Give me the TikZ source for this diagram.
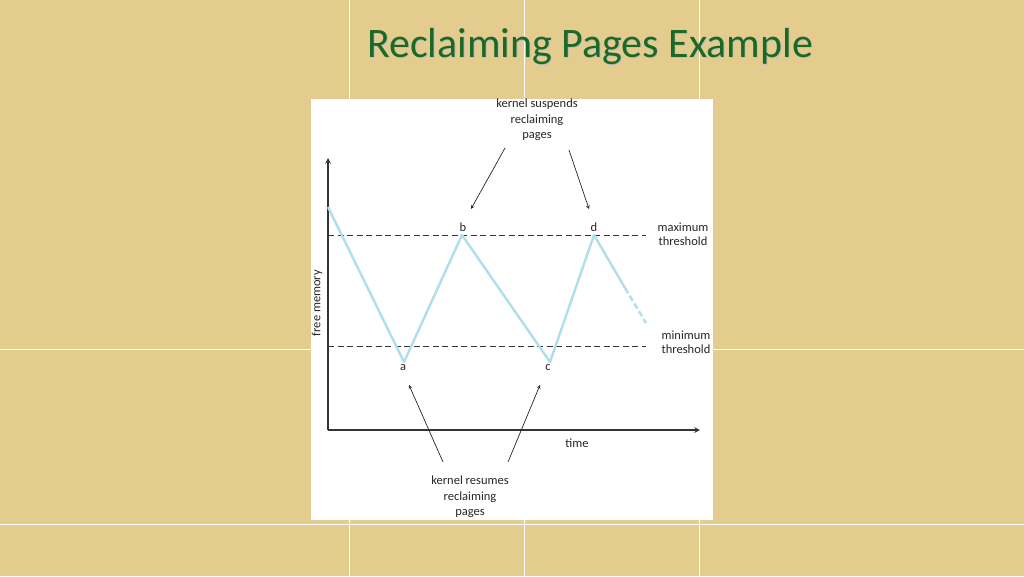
\documentclass[tikz,border=0pt]{standalone}
\usepackage{fontspec}
\setmainfont{Carlito}
\begin{document}
\begin{tikzpicture}[x=1pt,y=-1pt,
  lbl/.style={font=\fontsize{12.5}{14}\selectfont, text=black!85, align=center, inner sep=0pt},
  thr/.style={dashed, dash pattern=on 6pt off 3.5pt, line width=1pt, black!80},
  callout/.style={-stealth, line width=0.7pt, black!85}]
\definecolor{bg}{RGB}{228,204,142}
\definecolor{ttl}{RGB}{28,105,38}
\definecolor{cv}{RGB}{175,222,236}
\useasboundingbox (0,0) rectangle (1024,576);
\fill[bg] (0,0) rectangle (1024,576);
\foreach \x in {349,524,699} \draw[white, line width=1pt] (\x,0) -- (\x,576);
\foreach \y in {349,524} \draw[white, line width=1pt] (0,\y) -- (1024,\y);
\node[text=black!25, font=\fontsize{42}{48}\selectfont] at (591,47.5) {Reclaiming Pages Example};
\node[text=ttl, font=\fontsize{42}{48}\selectfont] (title) at (590,46.5) {Reclaiming Pages Example};
\fill[white] (311,99) rectangle (713,520);
% axes
\coordinate (o) at (328,430);
\coordinate (ytop) at (328,158);
\coordinate (xend) at (700,430);
\draw[line width=1.5pt, black!80, -stealth] (o) -- (ytop);
\draw[line width=1.5pt, black!80, -stealth] (o) -- (xend);
% thresholds
\coordinate (m1) at (328,235); \coordinate (m2) at (646,235);
\coordinate (n1) at (328,346); \coordinate (n2) at (646,346);
\draw[thr] (m1) -- (m2);
\draw[thr] (n1) -- (n2);
% curve
\coordinate (s) at (328,207);
\coordinate (pa) at (404,362);
\coordinate (pb) at (462,235);
\coordinate (pc) at (550,362);
\coordinate (pd) at (594,235);
\coordinate (pe) at (625,288);
\coordinate (pf) at (646,323);
\draw[line width=2.4pt, cv, line join=round] (s) -- (pa) -- (pb) -- (pc) -- (pd) -- (pe);
\draw[line width=2.4pt, cv, dash pattern=on 6pt off 3pt] (pe) -- (pf);
% labels
\node[lbl] (la) at (403,368) {a};
\node[lbl] (lb) at (463,227) {b};
\node[lbl] (lc) at (548,368) {c};
\node[lbl] (ld) at (594,227) {d};
\node[lbl] (max) at (683,234) {maximum\\threshold};
\node[lbl] (min) at (686,342) {minimum\\threshold};
\node[lbl, rotate=90] (fm) at (317,303) {free memory};
\node[lbl] (time) at (577,443) {time};
\node[lbl, font=\fontsize{12.5}{15.5}\selectfont] (susp) at (537,120) {kernel suspends\\reclaiming\\pages};
\node[lbl, font=\fontsize{12.5}{15.5}\selectfont] (res) at (470,497) {kernel resumes\\reclaiming\\pages};
\coordinate (t1) at (471,209); \coordinate (t2) at (589,209);
\coordinate (t3) at (409,385); \coordinate (t4) at (540,385);
\draw[callout] (505,148) -- (t1);
\draw[callout] (569,150) -- (t2);
\draw[callout] (443,462) -- (t3);
\draw[callout] (508,462) -- (t4);
\end{tikzpicture}
\end{document}
